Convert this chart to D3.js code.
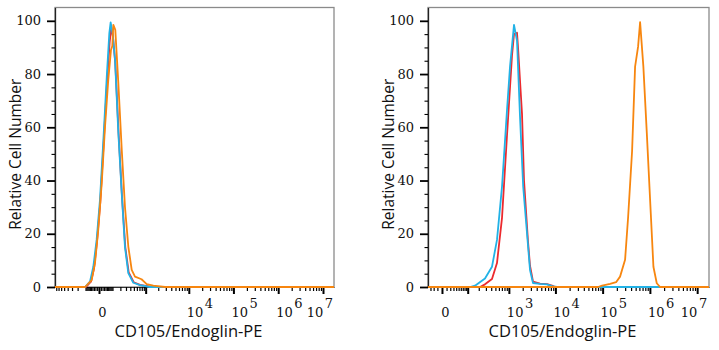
<!DOCTYPE html>
<html><head><meta charset="utf-8">
<script src="https://cdn.jsdelivr.net/npm/d3@7/dist/d3.min.js"></script>
<style>body{margin:0;background:#fff}svg{display:block}</style>
</head><body><svg id="chart" width="719" height="350"></svg>
<script>
// ---------- data (fluorescence value, relative cell number) ----------
const seriesNames = ["Isotype", "Unstained", "CD105/Endoglin-PE"];
const seriesColors = ["#ec2a2e", "#22b2e6", "#f7860f"];

const leftRed = [[-860,0],[-95,0],[-51,2],[-29,7],[-11,17],[7,32],[27,54],[51,77],[73,92],[88,97.5],[105,94],[131,84],[175,57],[226,34],[286,15],[360,5.5],[495,1.8],[722,0.8],[1430,0],[1.76e7,0]];
const leftBlue = [[-860,0],[-105,0],[-59,2],[-34,7.6],[-13,17.7],[5,32.7],[25,55],[49,79],[70,95.4],[82,99.4],[102,95],[128,85.3],[170,58],[222,35],[280,15],[351,5.2],[483,1.6],[722,0.7],[1275,0],[1.76e7,0]];
const leftOrange = [[-860,0],[-105,0],[-46,2.6],[-23,9],[-4,21.4],[15,39],[36,60],[61,77.8],[85,89],[98,90.5],[109,98.5],[131,96.6],[170,76.6],[222,51.5],[280,30],[351,15.2],[437,6.4],[536,3.9],[790,2.9],[1060,1.1],[1530,0.5],[2870,0],[1.76e7,0]];

const rightRed = [[-39,0],[215,0],[285,1],[417,3],[543,9],[705,26],[910,57],[1172,87],[1296,95],[1507,95.5],[1584,90],[1933,65],[2136,40],[2604,17],[2873,8],[3333,2],[4705,1.3],[6630,1.1],[8480,0.5],[9816,0],[1.78e7,0]];
const rightBlue = [[-39,0],[117,0],[160,0.5],[285,3.2],[417,7.6],[543,17.7],[705,37.7],[910,66.5],[1060,82.8],[1296,98.5],[1507,92.5],[1750,64],[2050,37.7],[2477,20.2],[2873,6.4],[3333,1.5],[4705,1.2],[6630,1],[8480,0.3],[10830,0],[1.78e7,0]];
const rightOrange = [[-39,0],[80000,0],[97300,0.5],[143900,1.2],[192700,1.8],[234000,3.9],[298600,10.2],[345600,26],[420000,51],[486400,82.8],[563000,90.3],[620800,99.5],[728000,82.8],[860800,57.8],[1044000,27.7],[1188000,7.6],[1398000,1.4],[1646000,0],[1.78e7,0]];

const yMajorTicks = [0, 20, 40, 60, 80, 100];
const yMinorTicks = [5,10,15,25,30,35,45,50,55,65,70,75,85,90,95];
const leftXTicks = [0, 1e3, 1e4, 1e5, 1e6, 1e7];
const leftXLabels = ["0", "", "10^4", "10^5", "10^6", "10^7"];
const rightXTicks = [0, 1e2, 1e3, 1e4, 1e5, 1e6, 1e7];
const rightXLabels = ["0", "", "10^3", "10^4", "10^5", "10^6", "10^7"];
const xTitle = "CD105/Endoglin-PE";
const yTitle = "Relative Cell Number";

// ---------- layout ----------
const panels = [
  {left:55, right:334, xDomain:[-860, 1.76e7], constant:100,
   series:[leftRed, leftBlue, leftOrange], ticks:leftXTicks, labels:leftXLabels},
  {left:428, right:709, xDomain:[-39, 1.78e7], constant:40,
   series:[rightRed, rightBlue, rightOrange], ticks:rightXTicks, labels:rightXLabels}
];
const plotTop = 7.5, plotBottom = 287;
const serif = "'DejaVu Serif', serif";
const sans = "'Open Sans', 'Noto Sans', sans-serif";

const svg = d3.select("#chart");

function minorTicksFor(domain, majors) {
  const out = [];
  for (let k = 1; k <= 6; k++) {
    for (let m = 1; m <= 9; m++) {
      const v = m * Math.pow(10, k);
      [v, -v].forEach(t => {
        if (t > domain[0] && t < domain[1] && !majors.includes(t)) out.push(t);
      });
    }
  }
  return out;
}

panels.forEach((p, pi) => {
  const g = svg.append("g");
  const x = d3.scaleSymlog().constant(p.constant).domain(p.xDomain).range([p.left, p.right]);
  const y = d3.scaleLinear().domain([0, 105]).range([plotBottom, plotTop]);

  // frame
  g.append("rect")
    .attr("x", p.left).attr("y", plotTop)
    .attr("width", p.right - p.left).attr("height", plotBottom - plotTop)
    .attr("fill", "none").attr("stroke", "#8a8a8a").attr("stroke-width", 1.3);

  // x axis (major + minor)
  const xAxisG = g.append("g").attr("transform", `translate(0,${plotBottom})`);
  xAxisG.call(d3.axisBottom(x).tickValues(p.ticks).tickSize(7).tickSizeOuter(0).tickFormat(""))
    .call(a => a.select(".domain").attr("stroke", "#333").attr("stroke-width", 1))
    .call(a => a.selectAll(".tick line").attr("stroke", "#000").attr("stroke-width", 2));
  const xMinorG = g.append("g").attr("transform", `translate(0,${plotBottom})`);
  xMinorG.call(d3.axisBottom(x).tickValues(minorTicksFor(p.xDomain, p.ticks)).tickSize(4).tickFormat(""))
    .call(a => a.select(".domain").remove())
    .call(a => a.selectAll(".tick line").attr("stroke", "#000").attr("stroke-width", 1.2));

  // x tick labels
  p.ticks.forEach((t, i) => {
    const lab = p.labels[i];
    if (!lab) return;
    const tx = x(t);
    if (lab.indexOf("^") < 0) {
      g.append("text").attr("x", tx + 3.5).attr("y", 317)
        .attr("text-anchor", "middle").attr("font-family", serif).attr("font-size", 13)
        .attr("fill", "#111").text(lab);
    } else {
      const [base, exp] = lab.split("^");
      const last = i === p.ticks.length - 1;
      const txt = g.append("text").attr("y", 317)
        .attr("x", last ? tx + 10 : tx - 2)
        .attr("text-anchor", last ? "end" : "start")
        .attr("font-family", serif).attr("font-size", 13).attr("fill", "#111");
      txt.append("tspan").text(base);
      txt.append("tspan").attr("dx", 1.5).attr("dy", -9).text(exp);
    }
  });

  // y axis
  const yAxisG = g.append("g").attr("transform", `translate(${p.left},0)`);
  yAxisG.call(d3.axisLeft(y).tickValues(yMajorTicks).tickSize(8).tickPadding(6).tickSizeOuter(0))
    .call(a => a.select(".domain").attr("stroke", "#222").attr("stroke-width", 1.3))
    .call(a => a.selectAll(".tick line").attr("stroke", "#000").attr("stroke-width", 1.8))
    .call(a => a.selectAll(".tick text").attr("font-family", serif).attr("font-size", 13).attr("fill", "#111"));
  const yMinorG = g.append("g").attr("transform", `translate(${p.left},0)`);
  yMinorG.call(d3.axisLeft(y).tickValues(yMinorTicks).tickSize(3.5).tickFormat(""))
    .call(a => a.select(".domain").remove())
    .call(a => a.selectAll(".tick line").attr("stroke", "#000").attr("stroke-width", 1.1));

  // curves
  const line = d3.line().x(d => x(d[0])).y(d => y(d[1]));
  p.series.forEach((s, si) => {
    g.append("path").datum(s).attr("d", line)
      .attr("fill", "none").attr("stroke", seriesColors[si])
      .attr("stroke-width", 1.8).attr("stroke-linejoin", "round");
  });

  // titles
  g.append("text").attr("x", (p.left + p.right) / 2 - 6).attr("y", 337)
    .attr("text-anchor", "middle").attr("font-family", sans).attr("font-size", 16.5)
    .attr("fill", "#111").text(xTitle);
  g.append("text")
    .attr("transform", `translate(${p.left - 34},${(plotTop + plotBottom) / 2 + 7}) rotate(-90)`)
    .attr("text-anchor", "middle").attr("font-family", sans).attr("font-size", 15.5)
    .attr("fill", "#111").text(yTitle);
});
</script>
</body></html>
